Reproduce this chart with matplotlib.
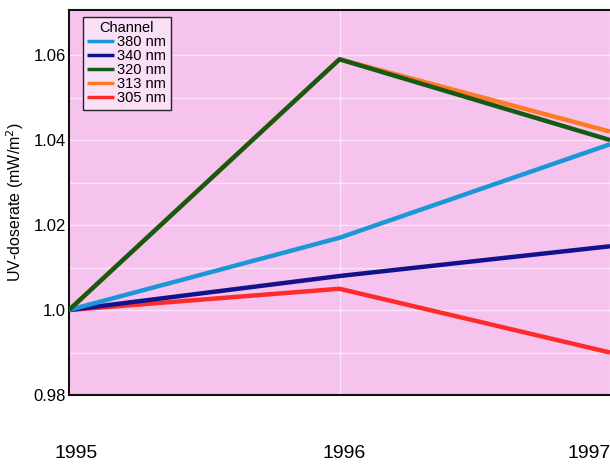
import matplotlib
matplotlib.use("Agg")
import matplotlib.pyplot as plt
import matplotlib.transforms as mtransforms

# --- data ---
years = [1995, 1996, 1997]
channels = ["380 nm", "340 nm", "320 nm", "313 nm", "305 nm"]
uv_380 = [1.000, 1.017, 1.039]
uv_340 = [1.000, 1.008, 1.015]
uv_320 = [1.000, 1.059, 1.040]
uv_313 = [1.000, 1.059, 1.042]
uv_305 = [1.000, 1.005, 0.990]

colors = ["#1b97d8", "#12128c", "#145a12", "#ff7a22", "#ff2a2a"]
series = [uv_380, uv_340, uv_320, uv_313, uv_305]
zorders = [4, 3, 6, 5, 2]

plt.rcParams['font.family'] = ['Liberation Sans', 'DejaVu Sans']

fig = plt.figure(figsize=(6.10, 4.68), dpi=100)
ax = fig.add_axes([69 / 610, 73 / 468, 1 - 69 / 610, 385 / 468])
ax.set_facecolor("#f6c2ee")

for name, vals, c, z in zip(channels, series, colors, zorders):
    ax.plot(years, vals, color=c, lw=3.2, label=name, zorder=z,
            solid_capstyle='butt')

ax.set_xlim(1995, 1997)
ax.set_ylim(0.98, 1.0706)
ax.set_yticks([0.98, 1.0, 1.02, 1.04, 1.06])
ax.set_yticklabels(["0.98", "1.0", "1.02", "1.04", "1.06"], fontsize=12)
ax.set_yticks([0.99, 1.01, 1.03, 1.05], minor=True)
ax.set_xticks(years)
ax.set_xticklabels([str(y) for y in years], fontsize=14)
ax.tick_params(axis='x', length=0, pad=36)
ax.tick_params(axis='y', which='both', length=0, pad=2)
ax.grid(True, which='both', axis='y', color='white', lw=1.0, alpha=0.6)
ax.grid(True, axis='x', color='white', lw=1.0, alpha=0.6)

for s in ["left", "bottom", "top"]:
    ax.spines[s].set_linewidth(1.5)
    ax.spines[s].set_color("#111111")
ax.spines["right"].set_visible(False)

ax.set_ylabel("UV-doserate (mW/m$^2$)", fontsize=11.5, labelpad=6)

leg = ax.legend(title="Channel", loc="upper left", bbox_to_anchor=(0.026, 0.982),
                fontsize=10.5, title_fontsize=10.5, frameon=True, fancybox=False,
                handlelength=1.8, handletextpad=0.25, labelspacing=0.0,
                borderpad=0.3, borderaxespad=0)
leg.get_frame().set_edgecolor("#222222")
leg.get_frame().set_linewidth(1.0)
leg.get_frame().set_facecolor("#fae0f6")
leg.get_frame().set_alpha(1)
for h in leg.get_lines():
    h.set_linewidth(2.5)

# year labels sit a little off their ticks in the original
shifts = [7, 5, -21]
for lab, dx in zip(ax.get_xticklabels(), shifts):
    off = mtransforms.ScaledTranslation(dx / 100, 0, fig.dpi_scale_trans)
    lab.set_transform(lab.get_transform() + off)

fig.savefig("out.png", dpi=100)
